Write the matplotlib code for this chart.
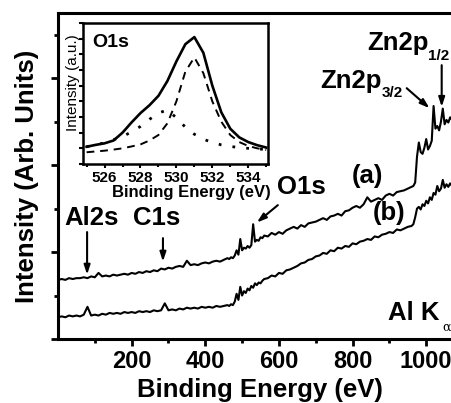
import matplotlib
matplotlib.use("Agg")
import matplotlib.pyplot as plt
from matplotlib.ticker import MultipleLocator, NullFormatter

plt.rcParams['font.family'] = ['Liberation Sans', 'DejaVu Sans']
plt.rcParams['font.weight'] = 'bold'

# survey spectra (binding energy in eV)
energy = [0, 10, 20, 30, 40, 50, 60, 70, 80, 90, 100, 110, 120, 130, 140, 150,
          160, 170, 180, 190, 200, 210, 220, 230, 240, 250, 260, 270, 280, 290,
          300, 310, 320, 330, 340, 350, 360, 370, 380, 390, 400, 410, 420, 430,
          440, 450, 460, 465, 470, 475, 480, 485, 490, 495, 500, 505, 510, 515,
          520, 525, 530, 535, 540, 545, 550, 555, 560, 570, 580, 590, 600, 610,
          620, 630, 640, 650, 660, 670, 680, 690, 700, 710, 720, 730, 740, 750,
          760, 770, 780, 790, 800, 810, 820, 830, 840, 850, 860, 870, 880, 890,
          900, 910, 920, 930, 940, 950, 960, 965, 970, 975, 980, 985, 990, 995,
          1000, 1005, 1010, 1015, 1020, 1025, 1030, 1035, 1040, 1045, 1050, 1055,
          1060, 1065, 1070]

spec_a = [0.68, 0.69, 0.68, 0.70, 0.69, 0.70, 0.70, 0.71, 0.70, 0.72, 0.71, 0.76,
          0.72, 0.73, 0.72, 0.74, 0.73, 0.74, 0.75, 0.74, 0.76, 0.75, 0.77, 0.76,
          0.78, 0.77, 0.79, 0.78, 0.81, 0.80, 0.82, 0.81, 0.83, 0.84, 0.83, 0.90,
          0.85, 0.86, 0.85, 0.87, 0.88, 0.87, 0.89, 0.90, 0.89, 0.91, 0.93, 0.92,
          0.94, 0.93, 0.96, 1.02, 0.97, 1.15, 1.02, 1.05, 1.04, 1.07, 1.05, 1.08,
          1.32, 1.12, 1.14, 1.13, 1.17, 1.16, 1.19, 1.18, 1.22, 1.20, 1.23, 1.21,
          1.25, 1.27, 1.29, 1.27, 1.31, 1.29, 1.33, 1.34, 1.35, 1.37, 1.39, 1.37,
          1.41, 1.42, 1.44, 1.42, 1.47, 1.48, 1.51, 1.53, 1.51, 1.55, 1.63, 1.58,
          1.60, 1.62, 1.60, 1.65, 1.67, 1.65, 1.69, 1.70, 1.71, 1.73, 1.75, 1.76,
          1.80, 2.10, 2.26, 2.15, 2.13, 2.20, 2.30, 2.18, 2.22, 2.28, 2.68, 2.42,
          2.45, 2.40, 2.50, 2.65, 2.47, 2.52, 2.49, 2.55, 2.52]

spec_b = [0.25, 0.26, 0.25, 0.27, 0.26, 0.27, 0.26, 0.28, 0.37, 0.27, 0.28, 0.27,
          0.29, 0.28, 0.30, 0.29, 0.30, 0.29, 0.31, 0.30, 0.31, 0.30, 0.32, 0.31,
          0.32, 0.31, 0.33, 0.32, 0.33, 0.41, 0.33, 0.34, 0.33, 0.35, 0.34, 0.36,
          0.35, 0.36, 0.35, 0.37, 0.36, 0.37, 0.36, 0.38, 0.37, 0.38, 0.39, 0.38,
          0.40, 0.39, 0.43, 0.52, 0.45, 0.60, 0.50, 0.55, 0.53, 0.58, 0.56, 0.61,
          0.59, 0.64, 0.62, 0.65, 0.64, 0.67, 0.69, 0.70, 0.73, 0.72, 0.76, 0.75,
          0.79, 0.80, 0.82, 0.84, 0.87, 0.88, 0.91, 0.92, 0.95, 0.96, 0.99, 0.98,
          1.02, 1.01, 1.05, 1.04, 1.07, 1.06, 1.10, 1.09, 1.12, 1.13, 1.15, 1.14,
          1.18, 1.17, 1.20, 1.21, 1.23, 1.22, 1.26, 1.25, 1.27, 1.29, 1.30, 1.32,
          1.40, 1.50, 1.52, 1.49, 1.55, 1.53, 1.59, 1.56, 1.63, 1.60, 1.68, 1.66,
          1.76, 1.70, 1.73, 1.83, 1.74, 1.78, 1.75, 1.79, 1.76]

# O1s inset
o1s_energy = [525.0, 525.5, 526.0, 526.5, 527.0, 527.5, 528.0, 528.5, 529.0, 529.5,
              530.0, 530.5, 531.0, 531.5, 532.0, 532.5, 533.0, 533.5, 534.0, 534.5,
              535.0]
o1s_total = [1.10, 1.22, 1.32, 1.50, 2.00, 2.65, 3.25, 3.75, 4.35, 5.30, 6.55, 7.65,
             8.10, 7.10, 5.00, 3.30, 2.25, 1.70, 1.40, 1.20, 1.05]
o1s_main = [0.75, 0.80, 0.85, 0.92, 1.00, 1.12, 1.25, 1.50, 1.85, 2.60, 4.00, 5.90,
            6.80, 5.80, 4.00, 2.70, 1.85, 1.40, 1.15, 1.00, 0.90]
o1s_second = [1.10, 1.22, 1.35, 1.55, 1.75, 2.05, 2.40, 2.85, 3.25, 3.45, 2.95, 2.35,
              1.90, 1.58, 1.38, 1.22, 1.12, 1.05, 1.00, 0.96, 0.93]

fig = plt.figure(figsize=(4.52, 4.03), dpi=100)
ax = fig.add_axes([58 / 452, 64 / 403, 394 / 452, 326 / 403])

ax.plot(energy, spec_a, color='black', lw=1.5)
ax.plot(energy, spec_b, color='black', lw=1.5)

ax.set_xlim(0, 1070)
ax.set_ylim(0, 3.75)
ax.set_xticks([200, 400, 600, 800, 1000])
ax.set_xticks([100, 300, 500, 700, 900], minor=True)
ax.yaxis.set_major_locator(MultipleLocator(1))
ax.yaxis.set_minor_locator(MultipleLocator(0.5))
ax.yaxis.set_major_formatter(NullFormatter())
for s in ['left', 'bottom', 'top']:
    ax.spines[s].set_linewidth(2.2)
ax.spines['right'].set_visible(False)
ax.tick_params(which='major', direction='out', length=5, width=2, labelsize=17, pad=3)
ax.tick_params(which='minor', direction='out', length=3, width=2)

ax.set_xlabel('Binding Energy (eV)', fontsize=18.5, fontweight='bold')
ax.xaxis.label.set_verticalalignment('baseline')
ax.xaxis.set_label_coords(0.513, -0.177)
ax.set_ylabel('Intensity (Arb. Units)', fontsize=18.5, fontweight='bold')
ax.yaxis.label.set_verticalalignment('baseline')
ax.yaxis.set_label_coords(-0.061, 0.5)

arrow = dict(arrowstyle='-|>,head_length=0.55,head_width=0.18', color='black', lw=1.5,
             shrinkA=0, shrinkB=0)
ax.text(90, 1.39, 'Al2s', fontsize=18.5, ha='center', va='center')
ax.annotate('', xy=(79, 0.74), xytext=(79, 1.23), arrowprops=arrow)
ax.text(269, 1.39, 'C1s', fontsize=18.5, ha='center', va='center')
ax.annotate('', xy=(285, 0.89), xytext=(285, 1.16), arrowprops=arrow)
ax.text(662, 1.75, 'O1s', fontsize=18.5, ha='center', va='center')
ax.annotate('', xy=(540, 1.34), xytext=(597, 1.54), arrowprops=arrow)

ax.text(711, 2.97, 'Zn2p', fontsize=18.5, ha='left', va='center')
ax.text(879, 2.83, '3/2', fontsize=11, ha='left', va='center')
ax.annotate('', xy=(1009, 2.655), xytext=(947, 2.885), arrowprops=arrow)
ax.text(839, 3.41, 'Zn2p', fontsize=18.5, ha='left', va='center')
ax.text(1004, 3.26, '1/2', fontsize=11, ha='left', va='center')
ax.annotate('', xy=(1042, 2.67), xytext=(1042, 3.15), arrowprops=arrow)

ax.text(841, 1.87, '(a)', fontsize=18.5, ha='center', va='center')
ax.text(898, 1.45, '(b)', fontsize=18.5, ha='center', va='center')
ax.text(1037, 0.30, 'Al K', fontsize=18.5, ha='right', va='center')
ax.text(1045, 0.13, 'α', fontsize=9, ha='left', va='center',
        family=['DejaVu Serif'], fontweight='normal')

# inset
ins = fig.add_axes([83 / 452, 239 / 403, 185 / 452, 141 / 403])
ins.plot(o1s_energy, o1s_total, color='black', lw=1.9)
ins.plot(o1s_energy, o1s_main, color='black', lw=1.4, linestyle=(0, (4, 3)))
ins.plot(o1s_energy, o1s_second, color='black', lw=2, linestyle=(0, (1, 4)))
ins.set_xlim(524.8, 535.1)
ins.set_ylim(0, 9)
ins.xaxis.set_major_locator(MultipleLocator(2))
ins.xaxis.set_minor_locator(MultipleLocator(1))
ins.yaxis.set_major_locator(MultipleLocator(1))
ins.yaxis.set_major_formatter(NullFormatter())
for s in ins.spines.values():
    s.set_linewidth(1.8)
ins.tick_params(which='major', direction='out', length=3, width=1.5, labelsize=11, pad=2)
ins.tick_params(which='minor', direction='out', length=2, width=1.5)
ins.set_xlabel('Binding Energy (eV)', fontsize=12, fontweight='bold')
ins.xaxis.label.set_verticalalignment('baseline')
ins.xaxis.set_label_coords(0.584, -0.234)
ins.set_ylabel('Intensity (a.u.)', fontsize=11, fontweight='normal')
ins.yaxis.label.set_verticalalignment('baseline')
ins.yaxis.set_label_coords(-0.03, 0.578)
ins.text(0.151, 0.865, 'O1s', transform=ins.transAxes, fontsize=14, ha='center', va='center')

fig.savefig('out.png', dpi=100)
